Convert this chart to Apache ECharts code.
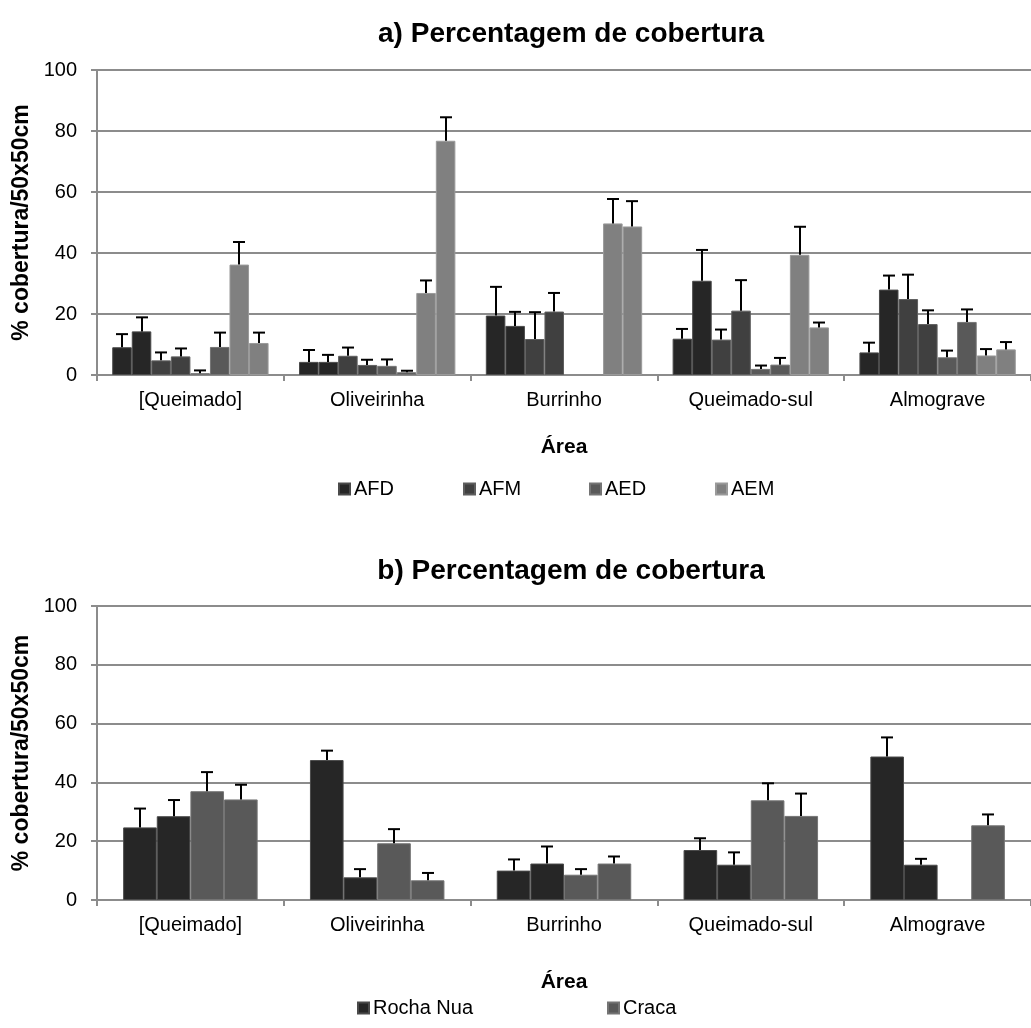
<!DOCTYPE html>
<html>
<head>
<meta charset="utf-8">
<script src="https://cdn.jsdelivr.net/npm/echarts@6/dist/echarts.min.js"></script>
<style>html,body{margin:0;padding:0;background:#fff}#c{width:1031px;height:1028px}</style>
</head>
<body>
<div id="c"></div>
<script>
// ---- data ----
const categories = ['[Queimado]', 'Oliveirinha', 'Burrinho', 'Queimado-sul', 'Almograve'];
const yTicks = [0, 20, 40, 60, 80, 100];

// Chart a: eight bars per area (two per legend group)
const legendA = ['AFD', 'AFM', 'AED', 'AEM'];
const afd1 = [9.1, 4.3, 19.5, 11.9, 7.4];
const afd1Err = [4.3, 3.9, 9.4, 3.2, 3.2];
const afd2 = [14.3, 4.3, 16.1, 30.9, 28.0];
const afd2Err = [4.6, 2.3, 4.6, 10.1, 4.6];
const afm1 = [4.8, 6.3, 11.8, 11.6, 24.9];
const afm1Err = [2.6, 2.7, 8.8, 3.3, 8.0];
const afm2 = [6.1, 3.3, 20.8, 21.1, 16.7];
const afm2Err = [2.6, 1.7, 6.1, 10.0, 4.5];
const aed1 = [0.6, 3.0, null, 2.0, 5.8];
const aed1Err = [0.9, 2.1, null, 1.1, 2.2];
const aed2 = [9.2, 0.9, null, 3.4, 17.4];
const aed2Err = [4.7, 0.5, null, 2.2, 4.1];
const aem1 = [36.2, 26.9, 49.7, 39.4, 6.4];
const aem1Err = [7.4, 4.1, 8.0, 9.2, 2.1];
const aem2 = [10.5, 76.8, 48.7, 15.6, 8.4];
const aem2Err = [3.4, 7.7, 8.3, 1.6, 2.4];

// Chart b: four bars per area (two per legend group)
const legendB = ['Rocha Nua', 'Craca'];
const rocha1 = [24.7, 47.6, 10.0, 17.0, 48.8];
const rocha1Err = [6.4, 3.2, 3.8, 4.0, 6.5];
const rocha2 = [28.5, 7.7, 12.4, 12.0, 12.0];
const rocha2Err = [5.5, 2.8, 5.8, 4.2, 2.0];
const craca1 = [37.0, 19.3, 8.6, 33.9, null];
const craca1Err = [6.5, 4.8, 1.9, 5.8, null];
const craca2 = [34.2, 6.7, 12.4, 28.6, 25.4];
const craca2Err = [5.0, 2.5, 2.4, 7.6, 3.7];

// ---- styling ----
const FONT = 'Liberation Sans, Arial, sans-serif';
const GRID_COLOR = '#8c8c8c';
const C1 = '#262626', C2 = '#404040', C3 = '#595959', C4 = '#808080';
const B1 = '#4a4a4a', B2 = '#5e5e5e', B3 = '#747474', B4 = '#9a9a9a';
const GAP_A = 0.163, GAP_B = 0.28;

const seriesA = [
  {name: 'AFD', data: afd1, err: afd1Err, color: C1, border: B1},
  {name: 'AFD', data: afd2, err: afd2Err, color: C1, border: B1},
  {name: 'AFM', data: afm1, err: afm1Err, color: C2, border: B2},
  {name: 'AFM', data: afm2, err: afm2Err, color: C2, border: B2},
  {name: 'AED', data: aed1, err: aed1Err, color: C3, border: B3},
  {name: 'AED', data: aed2, err: aed2Err, color: C3, border: B3},
  {name: 'AEM', data: aem1, err: aem1Err, color: C4, border: B4},
  {name: 'AEM', data: aem2, err: aem2Err, color: C4, border: B4}
];
const seriesB = [
  {name: 'Rocha Nua', data: rocha1, err: rocha1Err, color: C1, border: B1},
  {name: 'Rocha Nua', data: rocha2, err: rocha2Err, color: C1, border: B1},
  {name: 'Craca', data: craca1, err: craca1Err, color: C3, border: B3},
  {name: 'Craca', data: craca2, err: craca2Err, color: C3, border: B3}
];

function xAxisFor(gridIndex, nameGap) {
  return {
    type: 'category', gridIndex: gridIndex, data: categories,
    name: 'Área', nameLocation: 'middle', nameGap: nameGap,
    nameTextStyle: {fontFamily: FONT, fontSize: 21, fontWeight: 'bold', color: '#000'},
    axisLine: {lineStyle: {color: GRID_COLOR, width: 2}},
    axisTick: {show: true, length: 6, lineStyle: {color: GRID_COLOR, width: 2}},
    axisLabel: {fontFamily: FONT, fontSize: 20, color: '#000', margin: 15},
    splitLine: {show: false}
  };
}
function yAxisFor(gridIndex) {
  return {
    type: 'value', gridIndex: gridIndex, min: 0, max: 100, interval: 20,
    name: '% cobertura/50x50cm', nameLocation: 'middle', nameGap: 62,
    nameTextStyle: {fontFamily: FONT, fontSize: 23, fontWeight: 'bold', color: '#000'},
    axisLine: {show: true, lineStyle: {color: GRID_COLOR, width: 2}},
    axisTick: {show: true, length: 6, lineStyle: {color: GRID_COLOR, width: 2}},
    axisLabel: {fontFamily: FONT, fontSize: 20, color: '#000', margin: 20,
      formatter: v => yTicks.indexOf(v) >= 0 ? String(v) : ''},
    splitLine: {show: true, lineStyle: {color: GRID_COLOR, width: 2}}
  };
}

function barSeries(list, axisIdx, gap) {
  return list.map(s => ({
    type: 'bar', name: s.name, xAxisIndex: axisIdx, yAxisIndex: axisIdx,
    data: s.data, barGap: '0%', barCategoryGap: (gap * 100) + '%',
    itemStyle: {color: s.color, borderColor: s.border, borderWidth: 1},
    emphasis: {disabled: true}, animation: false
  }));
}

function errSeries(list, axisIdx, gap) {
  const data = [];
  list.forEach((s, si) => {
    s.data.forEach((v, ci) => {
      if (v != null && s.err[ci] != null) data.push([ci, si, v, v + s.err[ci]]);
    });
  });
  const n = list.length;
  return {
    type: 'custom', xAxisIndex: axisIdx, yAxisIndex: axisIdx, z: 5,
    data: data, encode: {x: 0, y: 3}, animation: false, silent: true,
    renderItem: function (params, api) {
      const ci = api.value(0), si = api.value(1);
      const base = api.coord([ci, api.value(2)]);
      const top = api.coord([ci, api.value(3)]);
      const band = api.size([1, 0])[0];
      const groupW = band * (1 - gap);
      const barW = groupW / n;
      const x = Math.round(base[0] - groupW / 2 + (si + 0.5) * barW);
      const capHalf = 6;
      const st = {stroke: '#000', lineWidth: 2};
      return {
        type: 'group',
        children: [
          {type: 'line', shape: {x1: x, y1: base[1], x2: x, y2: top[1]}, style: st},
          {type: 'line', shape: {x1: x - capHalf, y1: top[1], x2: x + capHalf, y2: top[1]}, style: st}
        ]
      };
    }
  };
}

function legendItem(name, left, top) {
  return {data: [name], left: left, top: top, icon: 'rect', itemWidth: 11, itemHeight: 11,
    itemGap: 0, selectedMode: false, padding: 0,
    textStyle: {fontFamily: FONT, fontSize: 20, color: '#000', padding: [0, 0, 0, -1]}};
}
const legendAX = [338, 463, 589, 715];
const legendBX = [357, 607];

const chart = echarts.init(document.getElementById('c'), null, {renderer: 'canvas'});
const option = {
  backgroundColor: '#fff',
  animation: false,
  title: [
    {text: 'a) Percentagem de cobertura', left: 566, textAlign: 'center', top: 15,
      textStyle: {fontFamily: FONT, fontSize: 28, fontWeight: 'bold', color: '#000'}},
    {text: 'b) Percentagem de cobertura', left: 566, textAlign: 'center', top: 552,
      textStyle: {fontFamily: FONT, fontSize: 28, fontWeight: 'bold', color: '#000'}}
  ],
  grid: [
    {left: 97, top: 70, height: 305, right: -13, containLabel: false},
    {left: 97, top: 606, height: 294, right: -13, containLabel: false}
  ],
  legend: legendA.map((n, i) => legendItem(n, legendAX[i], 479))
    .concat(legendB.map((n, i) => legendItem(n, legendBX[i], 998))),
  xAxis: [xAxisFor(0, 62), xAxisFor(1, 72)],
  yAxis: [yAxisFor(0), yAxisFor(1)],
  series: [].concat(
    barSeries(seriesA, 0, GAP_A),
    [errSeries(seriesA, 0, GAP_A)],
    barSeries(seriesB, 1, GAP_B),
    [errSeries(seriesB, 1, GAP_B)]
  )
};
chart.setOption(option);
</script>
</body>
</html>
